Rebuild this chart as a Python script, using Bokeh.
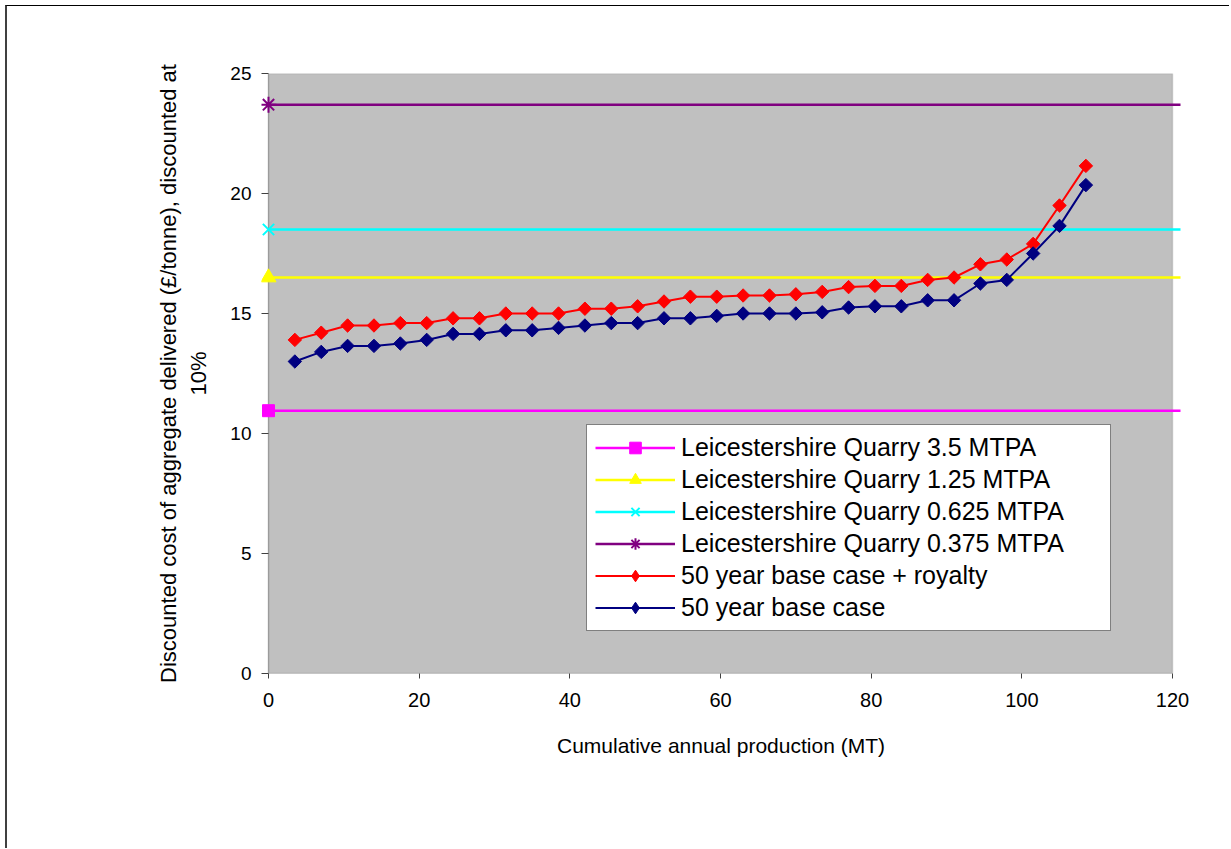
from bokeh.plotting import figure
from bokeh.models import Range1d, BoxAnnotation, Legend, LegendItem, FixedTicker
from bokeh.embed import file_html
from bokeh.resources import INLINE
import numpy as np

# ---- data ----
cum_production = [3.5, 7, 10.5, 14, 17.5, 21, 24.5, 28, 31.5, 35, 38.5, 42, 45.5, 49,
                  52.5, 56, 59.5, 63, 66.5, 70, 73.5, 77, 80.5, 84, 87.5, 91, 94.5, 98,
                  101.5, 105, 108.5]
base_royalty = [13.9, 14.2, 14.5, 14.5, 14.6, 14.6, 14.8, 14.8, 15.0, 15.0, 15.0, 15.2,
                15.2, 15.3, 15.5, 15.7, 15.7, 15.75, 15.75, 15.8, 15.9, 16.1, 16.15,
                16.15, 16.4, 16.5, 17.05, 17.25, 17.9, 19.5, 21.15]
base_case = [13.0, 13.4, 13.65, 13.65, 13.75, 13.9, 14.15, 14.15, 14.3, 14.3, 14.4, 14.5,
             14.6, 14.6, 14.8, 14.8, 14.9, 15.0, 15.0, 15.0, 15.05, 15.25, 15.3, 15.3,
             15.55, 15.55, 16.25, 16.4, 17.5, 18.65, 20.35]
quarry_x = [0, 130]
quarry_names = ["Leicestershire Quarry 3.5 MTPA", "Leicestershire Quarry 1.25 MTPA",
                "Leicestershire Quarry 0.625 MTPA", "Leicestershire Quarry 0.375 MTPA"]
quarry_costs = [10.95, 16.5, 18.5, 23.7]
x_ticks = [0, 20, 40, 60, 80, 100, 120]
y_ticks = [0, 5, 10, 15, 20, 25]

FONT = "Liberation Sans"

p = figure(width=1224, height=843, output_backend="svg", toolbar_location=None,
           x_range=Range1d(-0.93, 121.06), y_range=Range1d(0, 25),
           min_border_left=254, min_border_right=51, min_border_top=67,
           min_border_bottom=176)
p.styles = {"margin-left": "5px", "margin-top": "5px",
            "border-left": "2px solid #404040", "border-top": "1px solid #000000"}
p.background_fill_color = "white"
p.border_fill_color = "white"
p.outline_line_color = None
p.grid.visible = False

# plot area (grey) and its borders
p.add_layout(BoxAnnotation(left=0, right=120, bottom=0, top=25,
                           fill_color="#C0C0C0", fill_alpha=1.0,
                           line_color="#808080", line_width=1.5, level="underlay"))
p.add_layout(BoxAnnotation(left=0, right=0, bottom=0, top=25, fill_alpha=0,
                           line_color="#404040", line_width=1.2, level="underlay"))
p.add_layout(BoxAnnotation(left=0, right=120, bottom=0, top=0, fill_alpha=0,
                           line_color="#404040", line_width=1.2, level="underlay"))

# axes
p.xaxis.ticker = FixedTicker(ticks=x_ticks)
p.yaxis.ticker = FixedTicker(ticks=y_ticks)
for ax in (p.xaxis[0], p.yaxis[0]):
    ax.minor_tick_line_color = None
    ax.major_tick_line_color = "#404040"
    ax.axis_line_color = None
    ax.major_label_text_font = FONT
    ax.major_label_text_color = "black"
    ax.axis_label_text_font = FONT
    ax.axis_label_text_font_style = "normal"
    ax.axis_label_text_color = "black"
p.xaxis.major_tick_in = 0
p.xaxis.major_tick_out = 5
p.yaxis.major_tick_in = 7
p.yaxis.major_tick_out = 0
p.xaxis.major_label_text_font_size = "20px"
p.yaxis.major_label_text_font_size = "19px"
p.xaxis.major_label_standoff = 14
p.yaxis.major_label_standoff = 10
p.xaxis.axis_label = "Cumulative annual production (MT)"
p.xaxis.axis_label_text_font_size = "21px"
p.xaxis.axis_label_standoff = 24
p.yaxis.axis_label = "Discounted cost of aggregate delivered (£/tonne), discounted at\n10%"
p.yaxis.axis_label_text_font_size = "22px"
p.yaxis.axis_label_standoff = 16
p.yaxis.axis_label_text_align = "center"

items = []
styles = [("#FF00FF", "square", 12, 1), ("#FFFF00", "triangle", 15, 1),
          ("#00FFFF", "x", 16, 2), ("#800080", "asterisk", 16, 2)]
for name, cost, (col, mk, sz, lw) in zip(quarry_names, quarry_costs, styles):
    ys = [cost] * len(quarry_x)
    lr = p.line(quarry_x, ys, line_color=col, line_width=2.5)
    sr = p.scatter(quarry_x, ys, marker=mk, size=sz, fill_color=col, line_color=col,
                   line_width=lw)
    items.append(LegendItem(label=name, renderers=[lr, sr]))

for name, ys, col in [("50 year base case + royalty", base_royalty, "#FF0000"),
                      ("50 year base case", base_case, "#000080")]:
    lr = p.line(cum_production, ys, line_color=col, line_width=2)
    p.scatter(cum_production, ys, marker="square", angle=np.pi / 4, size=9.5,
              fill_color=col, line_color=col)
    # legend key glyph (diamond); hidden in the plot itself
    key = p.scatter(cum_production, ys, marker="diamond", size=15,
                    fill_color=col, line_color=col, visible=False)
    items.append(LegendItem(label=name, renderers=[lr, key]))

legend = Legend(items=items, location=(325, 42), padding=8, spacing=3,
                glyph_width=80, glyph_height=29, label_height=29, label_width=421,
                label_standoff=6, label_text_font=FONT, label_text_font_size="25px",
                label_text_color="black", click_policy="none",
                border_line_color="black", border_line_width=1,
                background_fill_color="white", background_fill_alpha=1.0, margin=0)
p.add_layout(legend, "center")

open("out.html", "w").write(file_html(p, INLINE))
